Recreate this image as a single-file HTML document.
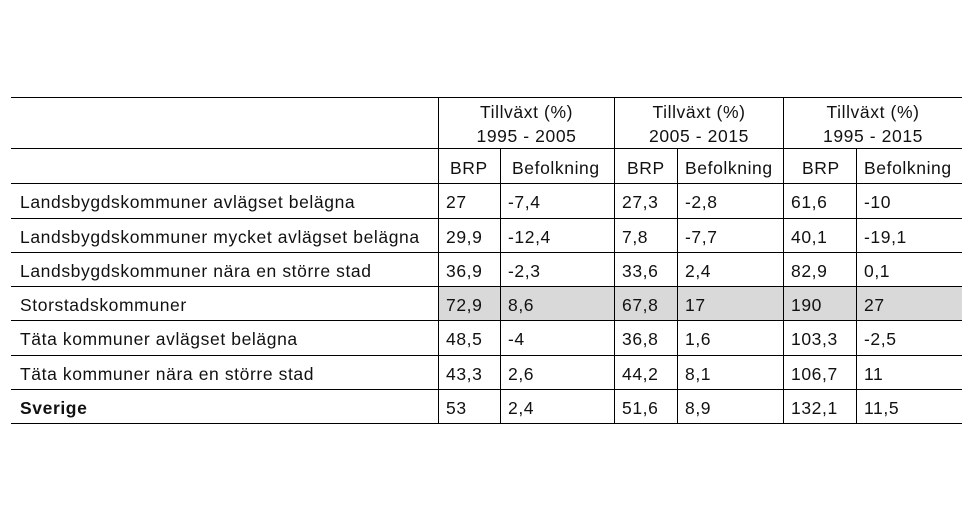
<!DOCTYPE html>
<html><head><meta charset="utf-8"><style>
body{margin:0;background:#fff;width:974px;height:516px;position:relative;overflow:hidden;font-family:"Liberation Sans",sans-serif;font-size:17.5px;letter-spacing:0.6px;color:#111}
.h{position:absolute;height:1px;background:#000;left:11px;width:951px}
.v{position:absolute;width:1px;background:#000}
.t{position:absolute;white-space:nowrap;line-height:20px}
.c{text-align:center}
</style></head><body>
<div style="position:absolute;left:439px;top:287px;width:523px;height:33px;background:#d9d9d9"></div>
<div class="h" style="top:97px"></div>
<div class="h" style="top:148px"></div>
<div class="h" style="top:183px"></div>
<div class="h" style="top:218px"></div>
<div class="h" style="top:252px"></div>
<div class="h" style="top:286px"></div>
<div class="h" style="top:320px"></div>
<div class="h" style="top:355px"></div>
<div class="h" style="top:389px"></div>
<div class="h" style="top:423px"></div>
<div class="v" style="left:438px;top:97px;height:327px"></div>
<div class="v" style="left:614px;top:97px;height:327px"></div>
<div class="v" style="left:783px;top:97px;height:327px"></div>
<div class="v" style="left:500px;top:148px;height:276px"></div>
<div class="v" style="left:677px;top:148px;height:276px"></div>
<div class="v" style="left:856px;top:148px;height:276px"></div>
<div class="t c" style="left:439px;width:175px;top:102px">Tillväxt (%)</div>
<div class="t c" style="left:439px;width:175px;top:126px">1995 - 2005</div>
<div class="t c" style="left:615px;width:168px;top:102px">Tillväxt (%)</div>
<div class="t c" style="left:615px;width:168px;top:126px">2005 - 2015</div>
<div class="t c" style="left:784px;width:178px;top:102px">Tillväxt (%)</div>
<div class="t c" style="left:784px;width:178px;top:126px">1995 - 2015</div>
<div class="t" style="left:450px;top:158px">BRP</div>
<div class="t" style="left:512px;top:158px">Befolkning</div>
<div class="t" style="left:627px;top:158px">BRP</div>
<div class="t" style="left:685px;top:158px">Befolkning</div>
<div class="t" style="left:802px;top:158px">BRP</div>
<div class="t" style="left:864px;top:158px">Befolkning</div>
<div id="rows"></div>
<script>
var d=[["Landsbygdskommuner avlägset belägna","27","-7,4","27,3","-2,8","61,6","-10"],
["Landsbygdskommuner mycket avlägset belägna","29,9","-12,4","7,8","-7,7","40,1","-19,1"],
["Landsbygdskommuner nära en större stad","36,9","-2,3","33,6","2,4","82,9","0,1"],
["Storstadskommuner","72,9","8,6","67,8","17","190","27"],
["Täta kommuner avlägset belägna","48,5","-4","36,8","1,6","103,3","-2,5"],
["Täta kommuner nära en större stad","43,3","2,6","44,2","8,1","106,7","11"],
["Sverige","53","2,4","51,6","8,9","132,1","11,5"]];
var xs=[20,446,508,622,685,791,864],tops=[183,218,252,286,320,355,389],h="";
d.forEach(function(r,i){r.forEach(function(s,j){h+='<div class="t" style="left:'+xs[j]+'px;top:'+(tops[i]+9)+'px;'+(i==6&&j==0?'font-weight:bold':'')+'">'+s+'</div>';});});
document.getElementById('rows').innerHTML=h;
</script>
</body></html>
